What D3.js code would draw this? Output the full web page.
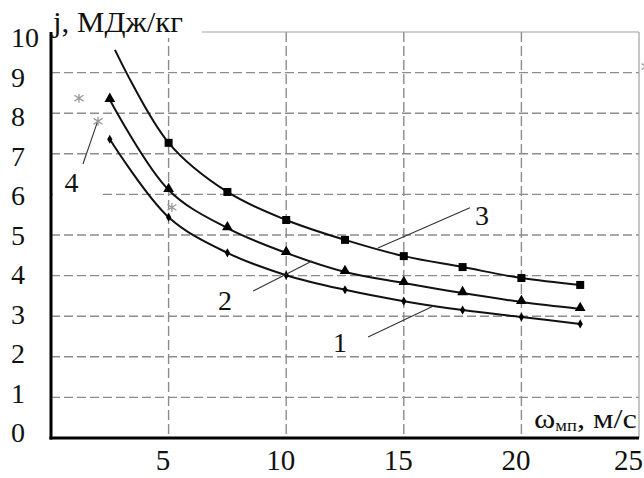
<!DOCTYPE html>
<html>
<head>
<meta charset="utf-8">
<script src="https://cdn.jsdelivr.net/npm/d3@7"></script>
<style>
  html, body { margin: 0; padding: 0; background: #fff; }
  svg { display: block; }
  text { font-family: "Liberation Serif", "Times New Roman", serif; fill: #111; }
</style>
</head>
<body>
<svg id="chart" width="644" height="478"></svg>
<script>
// Specific energy j (MJ/kg) against particle velocity ω_мп (m/s)
const speeds = [2.5, 5, 7.5, 10, 12.5, 15, 17.5, 20, 22.5];
const curve1 = [7.36, 5.44, 4.56, 4.01, 3.65, 3.37, 3.15, 2.98, 2.81];
const curve2 = [8.33, 6.11, 5.17, 4.56, 4.09, 3.82, 3.57, 3.35, 3.18];
const curve3Speeds = [5, 7.5, 10, 12.5, 15, 17.5, 20, 22.5];
const curve3 = [7.27, 6.06, 5.37, 4.88, 4.48, 4.21, 3.94, 3.77];
const curve3Lead = [2.72, 9.56];           // unmarked start of curve 3
const points4X = [1.19, 2.0, 5.14, 25.3];
const points4Y = [8.37, 7.8, 5.68, 9.15];

const xTicks = [5, 10, 15, 20, 25];
const yTicks = [0, 1, 2, 3, 4, 5, 6, 7, 8, 9, 10];
const yTitle = "j, МДж/кг";

// curve labels: text, text anchor (x, y), leader start, leader end (data units)
const curveLabels = ["1", "2", "3", "4"];
const labelAt = [[12.29, 2.13], [7.40, 3.15], [18.33, 5.25], [0.87, 6.06]];
const leaderFrom = [[13.48, 2.49], [8.59, 3.62], [17.81, 5.67], [1.36, 6.75]];
const leaderTo = [[16.33, 3.27], [11.10, 4.36], [13.90, 4.68], [1.96, 7.76]];

const svg = d3.select("#chart");
const x = d3.scaleLinear().domain([0, 25]).range([51, 639]);
const y = d3.scaleLinear().domain([0, 10]).range([438, 32]);
const yLabel = d3.scaleLinear().domain([0, 10]).range([433, 37.5]);

const gridColor = "#8c8c8c";

// "ж"-shaped marker for series 4
const zhe = {
  draw(ctx, size) {
    const r = Math.sqrt(size) / 2;
    ctx.moveTo(0, -r); ctx.lineTo(0, r);
    ctx.moveTo(-r, -0.65 * r); ctx.lineTo(r, 0.65 * r);
    ctx.moveTo(-r, 0.65 * r); ctx.lineTo(r, -0.65 * r);
  }
};

// grid
const grid = svg.append("g");
grid.selectAll("line.h").data(yTicks.filter(v => v > 0 && v < 10)).join("line")
  .attr("x1", x(0)).attr("x2", x(25))
  .attr("y1", d => y(d)).attr("y2", d => y(d))
  .attr("stroke", gridColor).attr("stroke-width", 1.4).attr("stroke-dasharray", "9,4");
grid.selectAll("line.v").data(xTicks.filter(v => v < 25)).join("line")
  .attr("x1", d => x(d)).attr("x2", d => x(d))
  .attr("y1", y(10)).attr("y2", y(0))
  .attr("stroke", gridColor).attr("stroke-width", 1.4).attr("stroke-dasharray", "10,4");
// frame top and right
grid.append("line").attr("x1", x(0)).attr("x2", x(25)).attr("y1", y(10)).attr("y2", y(10))
  .attr("stroke", "#a0a0a0").attr("stroke-width", 1.2);
grid.append("line").attr("x1", x(25)).attr("x2", x(25)).attr("y1", y(10)).attr("y2", y(0))
  .attr("stroke", "#a0a0a0").attr("stroke-width", 1.2);

// axis title with a white backing
const titleG = svg.append("g");
const title = titleG.append("text").attr("x", 53).attr("y", 32)
  .attr("font-size", 29).attr("textLength", 130).attr("lengthAdjust", "spacingAndGlyphs")
  .text(yTitle);
const tb = title.node().getBBox();
titleG.insert("rect", "text").attr("x", tb.x - 1).attr("y", tb.y)
  .attr("width", tb.width + 20).attr("height", tb.height).attr("fill", "#fff");

// x axis title
const xt = svg.append("text").attr("x", 637).attr("y", 428).attr("text-anchor", "end")
  .attr("font-size", 28).attr("textLength", 103).attr("lengthAdjust", "spacingAndGlyphs");
xt.append("tspan").text("ω");
xt.append("tspan").attr("font-size", 16).attr("dy", 3).text("мп");
xt.append("tspan").attr("dy", -3).text(", м/с");

// tick labels
const yAxis = svg.append("g").attr("transform", `translate(${x(0)},0)`)
  .call(d3.axisLeft(yLabel).tickValues(yTicks).tickSize(0).tickFormat(d3.format("d")));
yAxis.select(".domain").remove();
yAxis.selectAll("text").attr("x", -40).attr("text-anchor", "start")
  .attr("font-size", 28).attr("font-family", "Liberation Serif").attr("fill", "#111");

const xAxis = svg.append("g").attr("transform", `translate(0,${y(0)})`)
  .call(d3.axisBottom(x).tickValues(xTicks).tickSize(0).tickFormat(d3.format("d")));
xAxis.select(".domain").remove();
xAxis.selectAll("text").attr("dx", d => d === 25 ? -11 : -6).attr("dy", 0).attr("y", 32)
  .attr("font-size", 29).attr("font-family", "Liberation Serif").attr("fill", "#111");

// main axes
svg.append("line").attr("x1", x(0)).attr("x2", x(0)).attr("y1", y(10)).attr("y2", y(0) + 1.5)
  .attr("stroke", "#000").attr("stroke-width", 3);
svg.append("line").attr("x1", x(0) - 1.5).attr("x2", x(25)).attr("y1", y(0)).attr("y2", y(0))
  .attr("stroke", "#000").attr("stroke-width", 3);

// curves
const line = d3.line().x(d => x(d[0])).y(d => y(d[1])).curve(d3.curveCatmullRom.alpha(0.5));
const s1 = speeds.map((s, i) => [s, curve1[i]]);
const s2 = speeds.map((s, i) => [s, curve2[i]]);
const s3 = curve3Speeds.map((s, i) => [s, curve3[i]]);
const curves = svg.append("g").attr("fill", "none").attr("stroke", "#111").attr("stroke-width", 2);
curves.append("path").attr("d", line(s1));
curves.append("path").attr("d", line(s2));
curves.append("path").attr("d", line([curve3Lead, ...s3]));

// markers
const mk = svg.append("g").attr("fill", "#000");
mk.selectAll("path.d").data(s1).join("path")
  .attr("transform", d => `translate(${x(d[0])},${y(d[1])})`)
  .attr("d", d3.symbol(d3.symbolDiamond, 24));
mk.selectAll("path.t").data(s2).join("path")
  .attr("transform", d => `translate(${x(d[0])},${y(d[1]) - 1})`)
  .attr("d", d3.symbol(d3.symbolTriangle, 50));
mk.selectAll("path.s").data(s3).join("path")
  .attr("transform", d => `translate(${x(d[0])},${y(d[1])})`)
  .attr("d", d3.symbol(d3.symbolSquare, 64));
svg.append("g").selectAll("path").data(points4X.map((v, i) => [v, points4Y[i]])).join("path")
  .attr("transform", d => `translate(${x(d[0])},${y(d[1])})`)
  .attr("d", d3.symbol(zhe, 81))
  .attr("fill", "none").attr("stroke", "#999").attr("stroke-width", 1.3);

// curve labels with leaders
const lab = svg.append("g");
curveLabels.forEach((t, i) => {
  if (t === "4") {
    lab.append("rect").attr("x", x(0) + 2).attr("y", y(6) - 28)
      .attr("width", 47).attr("height", 30).attr("fill", "#fff");
  }
  lab.append("line")
    .attr("x1", x(leaderFrom[i][0])).attr("y1", y(leaderFrom[i][1]))
    .attr("x2", x(leaderTo[i][0])).attr("y2", y(leaderTo[i][1]))
    .attr("stroke", "#333").attr("stroke-width", 1.1);
  lab.append("text").attr("x", x(labelAt[i][0])).attr("y", y(labelAt[i][1]))
    .attr("text-anchor", "middle").attr("font-size", 28).text(t);
});
</script>
</body>
</html>
